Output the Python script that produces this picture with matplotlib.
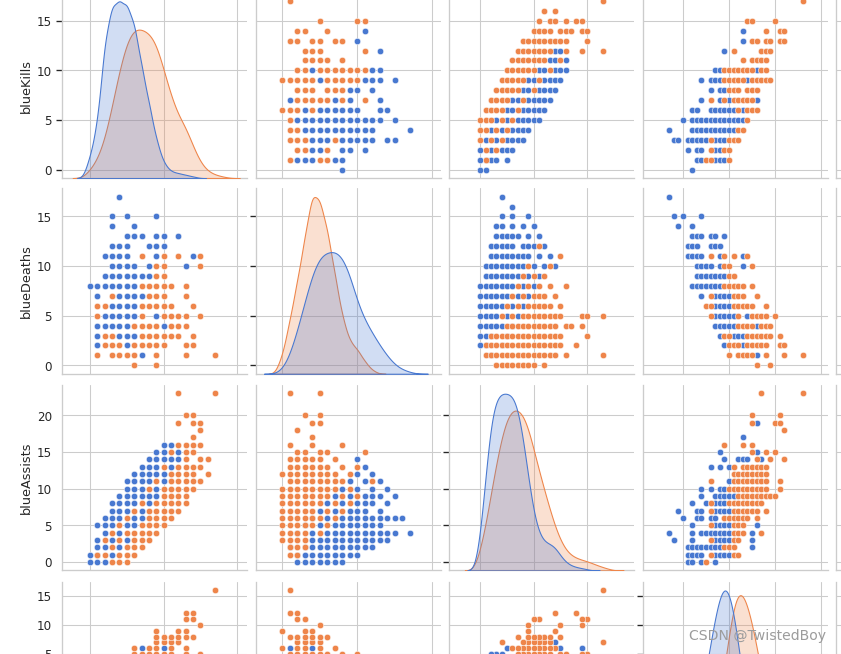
import matplotlib.pyplot as plt
import seaborn as sns
import numpy as np
import pandas as pd

# ---- marginal counts per value ----
kill_vals = list(range(0, 19))
kill_loss = [65, 165, 415, 520, 530, 520, 465, 335, 225, 115, 45, 20, 15, 10, 5, 0, 0, 0, 0]
kill_win = [25, 55, 115, 215, 325, 410, 450, 445, 435, 405, 325, 245, 185, 155, 95, 45, 20, 10, 5]

death_vals = list(range(0, 18))
death_loss = [10, 50, 120, 200, 280, 330, 340, 345, 330, 280, 200, 150, 115, 80, 50, 25, 12, 5]
death_win = [50, 150, 260, 380, 510, 490, 405, 280, 160, 90, 70, 35, 10, 0, 0, 0, 0, 0]

assist_vals = list(range(0, 25))
assist_loss = [100, 280, 450, 515, 530, 528, 525, 490, 400, 280, 170, 110, 85, 80, 72, 45, 25, 15, 10, 7, 4, 0, 0, 0, 0]
assist_win = [60, 130, 230, 320, 400, 460, 482, 485, 468, 432, 360, 300, 240, 185, 130, 90, 60, 45, 37, 32, 28, 22, 15, 10, 5]

diff_vals = list(range(-13, 17))
diff_loss = [4, 8, 15, 26, 42, 65, 95, 135, 180, 230, 280, 320, 340, 330, 290, 230, 165, 110, 70, 40, 22, 11, 5, 2, 1, 0, 0, 0, 0, 0]
diff_win = [0, 0, 0, 0, 0, 3, 8, 16, 29, 50, 84, 129, 185, 246, 302, 330, 325, 302, 269, 224, 179, 134, 95, 65, 43, 27, 16, 9, 4, 2]

# ---- scatter points: (kills, deaths) ----
kd_loss = [(4, 17), (3, 15), (5, 15), (9, 15), (3, 14), (6, 14),
           (5, 13), (6, 13), (7, 13), (9, 13), (10, 13), (12, 13),
           (3, 12), (4, 12), (5, 12), (8, 12), (9, 12), (10, 12),
           (2, 11), (3, 11), (4, 11), (5, 11), (9, 11), (14, 11),
           (3, 10), (4, 10), (5, 10), (6, 10), (8, 10), (13, 10),
           (2, 9), (3, 9), (4, 9), (5, 9), (6, 9), (7, 9), (8, 9),
           (0, 8), (1, 8), (2, 8), (3, 8), (4, 8), (5, 8), (6, 8),
           (1, 7), (4, 7), (5, 7), (6, 7), (7, 7),
           (3, 6), (4, 6), (5, 6), (6, 6),
           (2, 5), (3, 5), (4, 5), (5, 5), (6, 5), (9, 5),
           (1, 4), (2, 4), (3, 4), (4, 4), (5, 4), (10, 4),
           (1, 3), (4, 3), (5, 3), (6, 3),
           (1, 2), (5, 2), (7, 1)]
kd_win = [(7, 11), (10, 11), (12, 11), (15, 11),
          (9, 10), (10, 10), (15, 10), (9, 9), (10, 9),
          (7, 8), (8, 8), (9, 8), (10, 8), (11, 8), (13, 8),
          (3, 7), (8, 7), (9, 7), (10, 7), (13, 7),
          (1, 6), (2, 6), (7, 6), (8, 6), (9, 6), (10, 6), (11, 6), (14, 6),
          (1, 5), (7, 5), (10, 5), (11, 5), (12, 5), (13, 5), (15, 5),
          (6, 4), (7, 4), (8, 4), (9, 4), (11, 4), (12, 4), (13, 4),
          (2, 3), (3, 3), (7, 3), (8, 3), (9, 3), (10, 3), (11, 3), (12, 3), (14, 3),
          (2, 2), (3, 2), (4, 2), (6, 2), (7, 2), (8, 2), (9, 2), (10, 2), (13, 2), (14, 2),
          (1, 1), (3, 1), (4, 1), (5, 1), (6, 1), (9, 1), (13, 1), (17, 1),
          (6, 0), (9, 0)]

# ---- scatter points: assists seen for each kills value ----
ka_loss_rows = {0: [0, 1], 1: [0, 1, 2, 3, 5], 2: [0, 2, 4, 5, 6],
                3: [1, 3, 5, 6, 7, 8], 4: [2, 4, 6, 7, 8, 9], 5: [3, 5, 7, 8, 9, 10, 11],
                6: [5, 6, 8, 9, 10, 11, 12], 7: [6, 7, 9, 10, 11, 12, 13],
                8: [8, 9, 11, 12, 13, 14], 9: [9, 10, 12, 13, 14, 15],
                10: [11, 12, 14, 15, 16], 11: [13, 14, 16], 12: [14, 15]}
ka_win_rows = {1: [1], 2: [1, 3], 3: [0, 2, 4], 4: [0, 1, 3, 5], 5: [0, 1, 2, 4, 6],
               6: [1, 2, 3, 4, 7], 7: [2, 3, 4, 5, 8], 8: [3, 4, 5, 6, 7, 10],
               9: [4, 5, 6, 7, 8, 11], 10: [5, 6, 7, 8, 9, 10, 13],
               11: [6, 7, 8, 9, 10, 11, 12, 15], 12: [7, 8, 9, 10, 11, 12, 13, 16, 19, 23],
               13: [8, 9, 10, 11, 12, 13, 14, 15, 16, 20],
               14: [10, 11, 12, 13, 15, 16, 17, 19, 20],
               15: [11, 13, 14, 16, 18, 19], 16: [12, 14], 17: [23]}

# ---- scatter points: assists seen for each deaths value ----
da_loss_rows = {1: [2], 2: [0, 1, 4], 3: [0, 1, 2, 5], 4: [0, 1, 2, 3, 4, 6],
                5: [0, 1, 2, 3, 5, 7], 6: [0, 1, 2, 3, 4, 6, 8], 7: [0, 1, 2, 3, 4, 5, 7, 9],
                8: [0, 1, 2, 3, 4, 5, 6, 8, 10], 9: [1, 2, 3, 4, 5, 6, 7, 9, 11],
                10: [1, 2, 3, 4, 5, 6, 7, 8, 10, 12, 14], 11: [2, 3, 4, 5, 6, 7, 8, 9, 11, 13],
                12: [2, 3, 4, 5, 6, 8, 9, 10, 12], 13: [3, 4, 5, 6, 7, 9, 11],
                14: [3, 4, 6, 8, 10], 15: [4, 6, 9], 16: [6], 17: [4]}
da_win_rows = {0: [3, 4, 5, 6, 7, 8, 9, 10, 12],
               1: [1, 2, 3, 4, 5, 6, 7, 8, 9, 10, 11, 12, 13, 14, 16, 23],
               2: [1, 2, 3, 4, 5, 6, 7, 8, 9, 10, 11, 12, 13, 14, 15, 18],
               3: [2, 3, 4, 5, 6, 7, 8, 9, 10, 11, 12, 13, 14, 15, 20],
               4: [5, 6, 7, 8, 9, 10, 11, 12, 13, 14, 16, 17, 19],
               5: [4, 6, 8, 9, 10, 11, 12, 13, 14, 15, 19, 20, 23],
               6: [5, 7, 9, 10, 11, 12, 13, 15], 7: [6, 8, 10, 11, 12, 14],
               8: [7, 9, 11, 13, 16], 9: [8, 10, 12], 10: [9, 13], 11: [15], 12: [11]}

# ---- scatter points: (assists, kill diff) ----
af_loss = [(19, 6), (17, 3), (15, -2), (15, 6), (14, -1), (14, 2), (14, 3), (14, 4), (14, 7),
           (13, -4), (13, -2), (13, 0), (11, 0), (10, -6), (10, -4), (10, -2), (10, -1),
           (9, -6), (9, -3), (9, -2), (9, -1), (9, 0), (9, 1), (8, -8), (8, -5), (8, -3), (8, -2), (8, -1),
           (7, -11), (7, -7), (7, -6), (7, -3), (7, -2), (7, -1), (7, 0), (6, -10), (6, -7), (6, -6), (6, -4), (6, -3),
           (5, -8), (5, -3), (5, -2), (5, -1), (5, 0), (5, 6), (4, -13), (4, -8), (4, -6), (4, -5), (4, -4), (4, -3),
           (4, -2), (4, -1), (4, 0), (4, 5), (3, -12), (3, -8), (3, -3), (3, -2), (3, -1), (3, 0), (3, 5),
           (2, -9), (2, -8), (2, -7), (2, -6), (2, -5), (2, -4), (2, -3), (2, -2), (2, 5),
           (1, -9), (1, -8), (1, -7), (1, -6), (1, -3), (1, -2), (1, -1), (1, 0), (0, -9), (0, -8), (0, -6), (0, -3)]
af_win = [(23, 7), (23, 16), (20, 5), (20, 11), (19, 5), (19, 10), (19, 11), (18, 12),
          (16, -1), (16, 3), (16, 5), (15, 5), (15, 8), (15, 10), (14, 6), (14, 9), (14, 12),
          (13, 1), (13, 3), (13, 4), (13, 5), (13, 6), (13, 7), (13, 8),
          (12, 1), (12, 2), (12, 3), (12, 4), (12, 5), (12, 6), (12, 7), (12, 8),
          (11, -4), (11, 1), (11, 2), (11, 3), (11, 4), (11, 5), (11, 6), (11, 7), (11, 8), (11, 11),
          (10, 0), (10, 1), (10, 2), (10, 3), (10, 4), (10, 5), (10, 6), (10, 7), (10, 8), (10, 11),
          (9, 2), (9, 3), (9, 4), (9, 5), (9, 6), (9, 7), (9, 8), (9, 9), (9, 10),
          (8, -4), (8, 0), (8, 1), (8, 2), (8, 3), (8, 4), (8, 5), (8, 6), (8, 7),
          (7, -4), (7, 1), (7, 2), (7, 3), (7, 4), (7, 5), (7, 6), (7, 8), (6, -1), (6, 0), (6, 1), (6, 2), (6, 3), (6, 4), (6, 6),
          (5, -4), (5, 1), (5, 2), (5, 3), (4, 1), (4, 2), (4, 3), (4, 7), (3, -4), (3, 1), (3, 2),
          (2, -1), (2, 0), (2, 1), (1, -4), (1, 1), (1, 2), (0, -5)]

names = ["blueKills", "blueDeaths", "blueAssists", "killDiff"]
xlims = [(-3.81, 21.29), (-3.47, 21.13), (-5.76, 28.84), (-18.65, 21.5)]
ylims = [(-0.85, 17.85), (-0.85, 17.85), (-1.15, 24.15), (-14.45, 17.45)]
ticks = [[0, 5, 10, 15], [0, 5, 10, 15], [0, 5, 10, 15, 20], [-10, -5, 0, 5, 10, 15]]
xticks = [[0, 10, 20], [0, 10, 20], [0, 10, 20], [-10, 0, 10, 20]]

sns.set_theme(style="whitegrid", palette="muted")
plt.rcParams['font.family'] = ['DejaVu Sans']
pal = sns.color_palette("muted")
c_loss, c_win = pal[0], pal[1]


def flat(rows):
    return [(k, v) for k, vs in rows.items() for v in vs]


def pts(pairs, i, j):
    # pick the x (column i) and y (row j) variables out of the point tuples
    return [p[i] for p in pairs], [p[j] for p in pairs]


# tuples as (kills, deaths, assists, killDiff)
kd_loss4 = [(k, d, None, k - d) for k, d in kd_loss]
kd_win4 = [(k, d, None, k - d) for k, d in kd_win]
ka_loss4 = [(k, None, a, None) for k, a in flat(ka_loss_rows)]
ka_win4 = [(k, None, a, None) for k, a in flat(ka_win_rows)]
da_loss4 = [(None, d, a, None) for d, a in flat(da_loss_rows)]
da_win4 = [(None, d, a, None) for d, a in flat(da_win_rows)]
af_loss4 = [(None, None, a, f) for a, f in af_loss]
af_win4 = [(None, None, a, f) for a, f in af_win]


def source(i, j):
    s = {i, j}
    if s <= {0, 1, 3}:
        return kd_loss4, kd_win4
    if s == {0, 2}:
        return ka_loss4, ka_win4
    if s == {1, 2}:
        return da_loss4, da_win4
    return af_loss4, af_win4


marg = [(kill_vals, kill_loss, kill_win), (death_vals, death_loss, death_win),
        (assist_vals, assist_loss, assist_win), (diff_vals, diff_loss, diff_win)]

dpi = 77.4
W, H = 841, 654
fig = plt.figure(figsize=(841.3 / dpi, 654.3 / dpi), dpi=dpi)
lefts = [62, 256, 449.3, 643, 836]
tops = [-7.2, 188.4, 385, 581.7]
aw, ah = 184.5, 185.5

for r in range(4):
    for c in range(5):
        ax = fig.add_axes([lefts[c] / W, 1 - (tops[r] + ah) / H, aw / W, ah / H])
        if c < 4:
            if r == c:
                vals, nl, nw = marg[r]
                v = np.concatenate([np.repeat(vals, nl), np.repeat(vals, nw)])
                h = np.concatenate([np.zeros(sum(nl)), np.ones(sum(nw))])
                df = pd.DataFrame({"v": v, "win": h})
                tw = ax.twinx()
                sns.kdeplot(data=df, x="v", hue="win", fill=True, palette=[c_loss, c_win],
                            hue_order=[0.0, 1.0], legend=False, ax=tw, bw_adjust=1.25)
                tw.set_axis_off()
            else:
                lo, wi = source(c, r)
                x, y = pts(lo, c, r)
                ax.scatter(x, y, s=36, color=c_loss, edgecolor="w", linewidth=0.48, zorder=3)
                x, y = pts(wi, c, r)
                ax.scatter(x, y, s=36, color=c_win, edgecolor="w", linewidth=0.48, zorder=3)
            ax.set_xlim(xlims[c])
            ax.set_xticks(xticks[c])
        else:
            ax.set_xlim(0, 10)
            ax.set_xticks([2, 8])
        ax.set_ylim(ylims[r])
        ax.set_yticks(ticks[r])
        ax.set_xlabel("")
        ax.set_ylabel("")
        if c == 0:
            ax.set_ylabel(names[r])
        else:
            ax.set_yticklabels([])
        # the bottom row's x labels sit below the visible area, as in the source figure
        if r < 3 or c == 4:
            ax.set_xticklabels([])
        else:
            ax.set_xlabel(names[c])
        sns.despine(ax=ax)

fig.text(826 / W, 1 - 636 / H, "CSDN @TwistedBoy", ha="right", va="center",
         fontsize=13, color="#9c9c9c")

fig.savefig("out.png", dpi=dpi)
